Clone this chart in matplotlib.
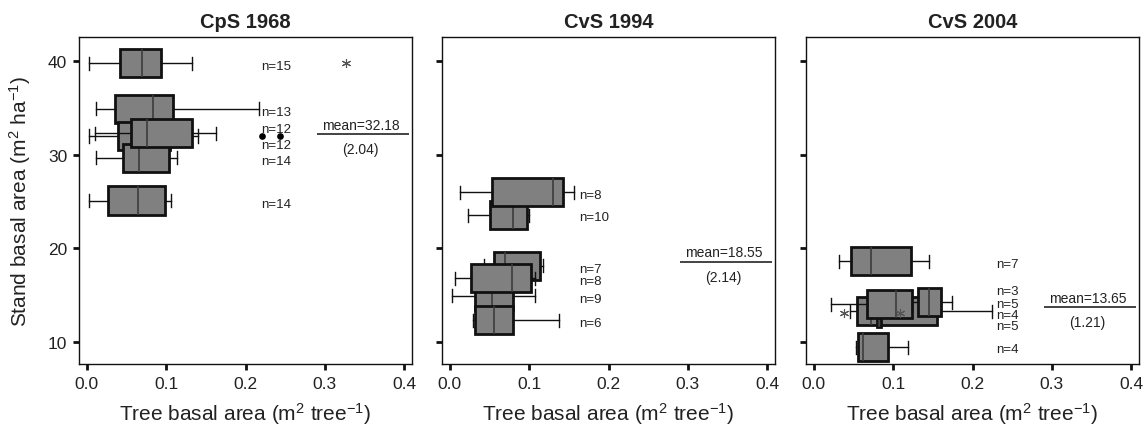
import matplotlib
matplotlib.use('Agg')
import matplotlib.pyplot as plt

plt.rcParams['font.family'] = ['Liberation Sans', 'DejaVu Sans']
plt.rcParams['mathtext.fontset'] = 'custom'
plt.rcParams['mathtext.rm'] = 'Liberation Sans'
plt.rcParams['mathtext.it'] = 'Liberation Sans:italic'
plt.rcParams['mathtext.bf'] = 'Liberation Sans:bold'
plt.rcParams['mathtext.default'] = 'regular'

# ---------------- data (boxes listed in drawing order) ----------------
titles = ['CpS 1968', 'CvS 1994', 'CvS 2004']

# CpS 1968
p1_stand = [39.8, 34.9, 32.0, 29.7, 32.3, 25.1]
p1_n = [15, 13, 12, 14, 12, 14]
p1_whislo = [0.002, 0.011, 0.0025, 0.012, 0.010, 0.002]
p1_q1 = [0.042, 0.035, 0.039, 0.045, 0.055, 0.026]
p1_med = [0.070, 0.083, 0.075, 0.066, 0.076, 0.064]
p1_q3 = [0.093, 0.109, 0.105, 0.103, 0.133, 0.099]
p1_whishi = [0.133, 0.217, 0.140, 0.114, 0.163, 0.106]
p1_fliers = [[0.327], [], [0.221, 0.244], [], [], []]
p1_flier_kind = ['star', None, 'dot', None, None, None]
p1_label_y = [39.5, 34.6, 31.0, 29.3, 32.8, 24.7]
p1_mean, p1_se = 32.18, 2.04

# CvS 1994
p2_stand = [23.5, 26.0, 14.9, 18.1, 12.3, 16.8]
p2_n = [10, 8, 9, 7, 6, 8]
p2_whislo = [0.023, 0.013, 0.003, 0.043, 0.029, 0.006]
p2_q1 = [0.051, 0.053, 0.031, 0.055, 0.031, 0.027]
p2_med = [0.079, 0.130, 0.053, 0.069, 0.056, 0.078]
p2_q3 = [0.097, 0.143, 0.080, 0.113, 0.080, 0.102]
p2_whishi = [0.100, 0.156, 0.107, 0.118, 0.137, 0.107]
p2_fliers = [[], [], [], [], [], []]
p2_flier_kind = [None] * 6
p2_label_y = [23.3, 25.7, 14.6, 17.8, 12.0, 16.5]
p2_mean, p2_se = 18.55, 2.14

# CvS 2004
p3_stand = [18.6, 13.25, 13.1, 14.0, 14.2, 9.4]
p3_n = [7, 4, 5, 5, 3, 4]
p3_whislo = [0.032, 0.045, 0.080, 0.021, 0.124, 0.053]
p3_q1 = [0.047, 0.054, 0.080, 0.067, 0.131, 0.055]
p3_med = [0.072, 0.072, 0.082, 0.103, 0.145, 0.062]
p3_q3 = [0.122, 0.155, 0.085, 0.124, 0.160, 0.093]
p3_whishi = [0.145, 0.225, 0.085, 0.124, 0.174, 0.119]
p3_fliers = [[], [], [0.038, 0.109], [], [], []]
p3_flier_kind = [None, None, 'star', None, None, None]
p3_label_y = [18.3, 12.8, 11.66, 14.04, 15.36, 9.23]
p3_mean, p3_se = 13.65, 1.21

panels = [
    (p1_stand, p1_n, p1_whislo, p1_q1, p1_med, p1_q3, p1_whishi, p1_fliers, p1_flier_kind, p1_label_y, p1_mean, p1_se, 0.220),
    (p2_stand, p2_n, p2_whislo, p2_q1, p2_med, p2_q3, p2_whishi, p2_fliers, p2_flier_kind, p2_label_y, p2_mean, p2_se, 0.163),
    (p3_stand, p3_n, p3_whislo, p3_q1, p3_med, p3_q3, p3_whishi, p3_fliers, p3_flier_kind, p3_label_y, p3_mean, p3_se, 0.230),
]

xticks = [0.0, 0.1, 0.2, 0.3, 0.4]
xticklabels = ['0.0', '0.1', '0.2', '0.3', '0.4']
yticks = [10, 20, 30, 40]

# ---------------- figure ----------------
W, H = 1146, 431
fig = plt.figure(figsize=(W / 100, H / 100), dpi=100)
lefts = [79, 442, 806]
aw, ab, ah = 333, 66, 327

flier_styles = {
    'star': dict(marker=(6, 2, 0), markersize=6.5, markeredgecolor='#555555',
                 markerfacecolor='#555555', markeredgewidth=0.8, linestyle='none', zorder=40),
    'dot': dict(marker='o', markersize=3.8, markeredgecolor='black',
                markerfacecolor='black', linestyle='none', zorder=40),
}

for k, (stand, ns, wlo, q1s, meds, q3s, whi, fls, fkind, laby, mean, se, labx) in enumerate(panels):
    ax = fig.add_axes([lefts[k] / W, ab / H, aw / W, ah / H])
    for i in range(len(stand)):
        st = dict(whislo=wlo[i], q1=q1s[i], med=meds[i], q3=q3s[i], whishi=whi[i], fliers=fls[i])
        fp = flier_styles.get(fkind[i], dict(marker=''))
        ax.bxp([st], positions=[stand[i]], widths=3.0, orientation='horizontal',
               patch_artist=True, showfliers=bool(fls[i]), manage_ticks=False,
               capwidths=[1.4], zorder=2 + i,
               boxprops=dict(facecolor='#808080', edgecolor='#111111', linewidth=2.0),
               medianprops=dict(color='#3c3c3c', linewidth=1.2),
               whiskerprops=dict(color='#111111', linewidth=1.0),
               capprops=dict(color='#111111', linewidth=1.0),
               flierprops=fp)
        ax.text(labx, laby[i], f'n={ns[i]}', fontsize=9.5, ha='left', va='center',
                color='#222222', zorder=50)
    # mean annotation
    ax.hlines(mean, 0.29, 0.406, color='#111111', linewidth=1.1, zorder=50)
    ax.text(0.345, mean + 1.0, f'mean={mean:.2f}', fontsize=10, ha='center', va='center',
            color='#222222', zorder=50)
    ax.text(0.345, mean - 1.6, f'({se:.2f})', fontsize=10, ha='center', va='center',
            color='#222222', zorder=50)

    ax.set_xlim(-0.01, 0.41)
    ax.set_ylim(7.6, 42.6)
    ax.set_xticks(xticks)
    ax.set_xticklabels(xticklabels)
    ax.set_yticks(yticks)
    ax.tick_params(direction='out', length=4.5, width=2, pad=4, labelsize=12.5,
                   color='#111111', labelcolor='#222222')
    if k > 0:
        ax.tick_params(axis='y', labelleft=False)
    for sp in ax.spines.values():
        sp.set_linewidth(1.0)
        sp.set_color('#111111')
    ax.set_title(titles[k], fontsize=14.5, fontweight='bold', pad=7, color='#222222')
    ax.set_xlabel('Tree basal area (m$^{2}$ tree$^{-1}$)', fontsize=15, labelpad=7,
                  color='#222222')
    if k == 0:
        ax.set_ylabel('Stand basal area (m$^{2}$ ha$^{-1}$)', fontsize=15, color='#222222')
        ax.yaxis.set_label_coords(-0.138, 0.5)

fig.savefig('out.png', dpi=100)
